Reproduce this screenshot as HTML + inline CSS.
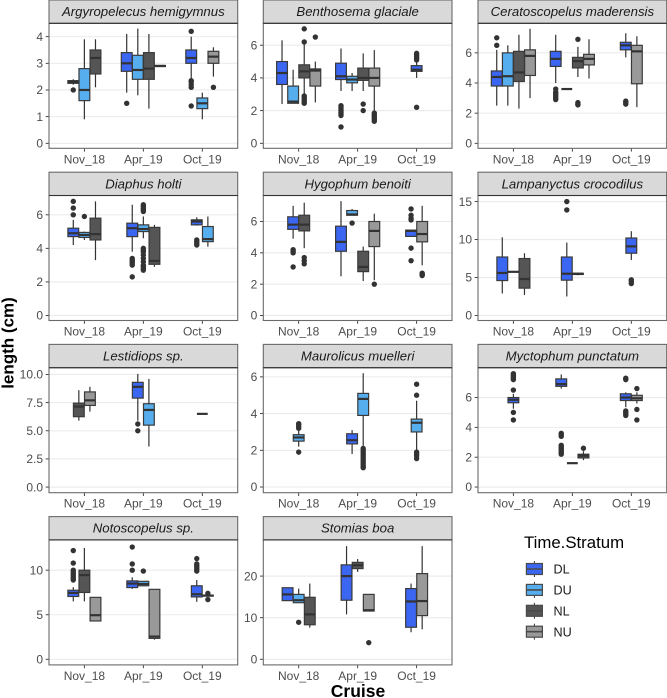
<!DOCTYPE html>
<html>
<head>
<meta charset="utf-8">
<title>Length by cruise and time stratum</title>
<style>
html,body{margin:0;padding:0;background:#fff;}
body{width:667px;height:698px;overflow:hidden;}
svg{display:block;font-family:"Liberation Sans",sans-serif;}
</style>
</head>
<body>
<svg id="chart" xmlns="http://www.w3.org/2000/svg" width="667" height="698" viewBox="0 0 667 698">
  <text transform="translate(13.5,343) rotate(-90)" text-anchor="middle" font-size="17" font-weight="bold" fill="#000">length (cm)</text>
  <text x="358" y="697" text-anchor="middle" font-size="17.5" font-weight="bold" fill="#000">Cruise</text>
  <g id="legend">
    <text x="524" y="548" font-size="16.8" fill="#000">Time.Stratum</text>
  </g>
</svg>
<script>
const cruises = ["Nov_18", "Apr_19", "Oct_19"];
const strata = ["DL", "DU", "NL", "NU"];
const speciesNames = ["Argyropelecus hemigymnus", "Benthosema glaciale", "Ceratoscopelus maderensis", "Diaphus holti", "Hygophum benoiti", "Lampanyctus crocodilus", "Lestidiops sp.", "Maurolicus muelleri", "Myctophum punctatum", "Notoscopelus sp.", "Stomias boa"];
const yDomains = [[-0.187, 4.5], [-0.305, 7.34], [-0.33, 7.96], [-0.3, 7.15], [-0.32, 7.66], [-0.66, 15.8], [-0.5, 10.6], [-0.31, 6.5], [-0.38, 8.0], [-0.63, 13.4], [-1.35, 28.7]];
const yTicks = [["0", "1", "2", "3", "4"], ["0", "2", "4", "6"], ["0", "2", "4", "6"], ["0", "2", "4", "6"], ["0", "2", "4", "6"], ["0", "5", "10", "15"], ["0.0", "2.5", "5.0", "7.5", "10.0"], ["0", "2", "4", "6"], ["0", "2", "4", "6"], ["0", "5", "10"], ["0", "10", "20"]];

// rows: cruise, stratum, whisker low, q1, median, q3, whisker high, outliers
const argyropelecus = [
  ["Nov_18", "DL", 2.2, 2.25, 2.3, 2.35, 2.4, [2.0]],
  ["Nov_18", "DU", 0.9, 1.6, 2.0, 2.8, 3.9, []],
  ["Nov_18", "NL", 2.1, 2.6, 3.2, 3.5, 3.9, []],
  ["Apr_19", "DL", 1.9, 2.7, 3.0, 3.4, 4.1, [1.5]],
  ["Apr_19", "DU", 1.8, 2.4, 2.75, 3.3, 4.3, []],
  ["Apr_19", "NL", 1.3, 2.4, 2.8, 3.4, 4.1, []],
  ["Apr_19", "NU", 2.88, 2.88, 2.9, 2.92, 2.92, []],
  ["Oct_19", "DL", 2.3, 3.0, 3.2, 3.5, 4.0, [4.2, 3.3, 3.2, 3.15, 2.35, 2.3, 2.2, 2.1, 1.4]],
  ["Oct_19", "DU", 0.9, 1.3, 1.5, 1.7, 1.9, []],
  ["Oct_19", "NU", 2.5, 3.0, 3.25, 3.45, 3.6, [2.1]]
];
const benthosema = [
  ["Nov_18", "DL", 2.4, 3.6, 4.3, 5.0, 6.3, []],
  ["Nov_18", "DU", 2.45, 2.45, 2.55, 3.5, 4.5, []],
  ["Nov_18", "NL", 2.95, 4.0, 4.4, 4.8, 6.1, [7.0, 6.2, 2.9, 2.8, 2.7, 2.6, 2.5, 2.45]],
  ["Nov_18", "NU", 2.5, 3.5, 4.45, 4.55, 5.0, [6.5]],
  ["Apr_19", "DL", 3.2, 3.9, 4.1, 4.9, 5.8, [2.3, 2.2, 2.1, 2.0, 1.9, 1.8, 1.7, 1.0]],
  ["Apr_19", "DU", 3.2, 3.7, 3.9, 4.1, 4.3, []],
  ["Apr_19", "NL", 3.2, 3.85, 4.0, 4.6, 5.5, [2.4, 2.0]],
  ["Apr_19", "NU", 1.9, 3.5, 4.0, 4.6, 5.7, [1.85, 1.75, 1.65, 1.55, 1.45, 1.35]],
  ["Oct_19", "DL", 4.0, 4.4, 4.5, 4.75, 5.0, [5.5, 5.4, 5.3, 5.2, 5.1, 2.2]]
];
const ceratoscopelus = [
  ["Nov_18", "DL", 2.5, 3.8, 4.4, 4.8, 6.2, [7.0, 6.5]],
  ["Nov_18", "DU", 2.5, 3.8, 4.45, 6.0, 6.5, []],
  ["Nov_18", "NL", 2.3, 4.1, 4.7, 6.1, 7.2, []],
  ["Nov_18", "NU", 3.0, 4.5, 5.8, 6.2, 7.6, []],
  ["Apr_19", "DL", 4.0, 5.1, 5.6, 6.1, 7.2, [3.6, 3.4, 3.3, 3.2, 3.1, 3.0, 2.9]],
  ["Apr_19", "DU", 3.6, 3.6, 3.6, 3.6, 3.6, []],
  ["Apr_19", "NL", 4.4, 5.0, 5.45, 5.7, 6.4, [6.9, 2.7, 2.6, 2.55]],
  ["Apr_19", "NU", 4.3, 5.2, 5.6, 5.9, 6.9, []],
  ["Oct_19", "DL", 5.7, 6.2, 6.5, 6.7, 7.3, [2.8, 2.7, 2.6]],
  ["Oct_19", "NU", 2.4, 3.95, 6.1, 6.5, 7.1, []]
];
const diaphus = [
  ["Nov_18", "DL", 4.2, 4.7, 4.9, 5.2, 5.7, [6.8, 6.4, 6.0]],
  ["Nov_18", "DU", 4.5, 4.65, 4.8, 4.95, 5.0, [5.9]],
  ["Nov_18", "NL", 3.3, 4.5, 4.85, 5.8, 6.8, []],
  ["Apr_19", "DL", 3.8, 4.7, 5.2, 5.5, 6.6, [3.4, 3.3, 3.2, 3.1, 3.0, 2.3]],
  ["Apr_19", "DU", 4.6, 5.0, 5.15, 5.4, 5.9, [6.6, 6.5, 6.4, 6.3, 6.2, 4.0, 3.9, 3.8, 3.6, 3.4, 3.2, 3.0, 2.9, 2.8, 2.7]],
  ["Apr_19", "NL", 2.9, 3.05, 3.25, 5.25, 5.4, []],
  ["Oct_19", "DL", 5.35, 5.4, 5.6, 5.7, 5.85, [4.5, 4.4, 4.3, 4.2]],
  ["Oct_19", "DU", 4.1, 4.4, 4.55, 5.3, 5.9, []]
];
const hygophum = [
  ["Nov_18", "DL", 4.9, 5.5, 5.8, 6.3, 7.0, [4.2, 4.1, 4.0, 3.1]],
  ["Nov_18", "NL", 4.3, 5.4, 5.8, 6.4, 7.2, [3.7, 3.5, 3.3]],
  ["Apr_19", "DL", 2.5, 4.1, 4.7, 5.7, 7.3, []],
  ["Apr_19", "DU", 6.4, 6.4, 6.45, 6.7, 6.8, [5.9]],
  ["Apr_19", "NL", 2.2, 2.8, 3.1, 4.1, 4.4, []],
  ["Apr_19", "NU", 2.25, 4.4, 5.4, 6.0, 6.5, [2.0]],
  ["Oct_19", "DL", 5.05, 5.05, 5.4, 5.45, 5.45, [6.8, 6.4, 6.2, 6.1, 4.3, 3.5]],
  ["Oct_19", "NU", 3.2, 4.7, 5.2, 6.0, 7.0, [2.7, 2.65, 2.6, 2.55]]
];
const lampanyctus = [
  ["Nov_18", "DL", 2.9, 4.6, 5.6, 7.7, 10.3, []],
  ["Nov_18", "DU", 5.75, 5.75, 5.75, 5.75, 5.75, []],
  ["Nov_18", "NL", 2.7, 3.6, 4.8, 7.5, 8.2, []],
  ["Apr_19", "DL", 2.5, 4.65, 5.5, 7.7, 9.6, [15.0, 13.9]],
  ["Apr_19", "DU", 5.3, 5.4, 5.5, 5.55, 5.6, []],
  ["Oct_19", "DL", 7.3, 8.2, 9.1, 10.2, 11.1, [4.7, 4.5, 4.2]]
];
const lestidiops = [
  ["Nov_18", "NL", 5.9, 6.25, 7.15, 7.45, 8.6, []],
  ["Nov_18", "NU", 6.7, 7.25, 7.7, 8.45, 8.9, []],
  ["Apr_19", "DL", 5.9, 7.9, 8.9, 9.3, 10.05, [5.6, 5.0]],
  ["Apr_19", "DU", 3.6, 5.5, 6.85, 7.4, 9.6, []],
  ["Oct_19", "NL", 6.5, 6.5, 6.5, 6.5, 6.5, []]
];
const maurolicus = [
  ["Nov_18", "DU", 2.2, 2.5, 2.7, 2.85, 3.2, [3.45, 3.4, 3.3, 3.2, 1.9]],
  ["Apr_19", "DL", 1.8, 2.35, 2.55, 2.9, 3.1, []],
  ["Apr_19", "DU", 2.2, 3.9, 4.8, 5.1, 6.2, [2.1, 2.0, 1.9, 1.8, 1.7, 1.6, 1.5, 1.4, 1.3, 1.2, 1.1, 1.05]],
  ["Oct_19", "DU", 2.0, 3.0, 3.5, 3.7, 4.7, [5.6, 5.0, 1.9, 1.8, 1.7, 1.55]]
];
const myctophum = [
  ["Nov_18", "DL", 5.25, 5.65, 5.85, 6.0, 6.25, [7.6, 7.5, 7.4, 7.3, 7.2, 6.5, 5.0, 4.5]],
  ["Apr_19", "DL", 6.6, 6.75, 6.9, 7.25, 7.55, [3.6, 3.5, 3.4, 2.8, 2.7, 2.6, 2.5, 2.4, 2.3, 2.2]],
  ["Apr_19", "DU", 1.6, 1.6, 1.6, 1.6, 1.6, []],
  ["Apr_19", "NL", 1.8, 1.95, 2.1, 2.2, 2.4, [2.6]],
  ["Oct_19", "DL", 5.35, 5.8, 6.0, 6.25, 6.35, [7.3, 7.2, 5.1, 5.0, 4.9, 4.8]],
  ["Oct_19", "NU", 5.6, 5.8, 5.95, 6.15, 6.35, [6.6, 5.2, 4.5]]
];
const notoscopelus = [
  ["Nov_18", "DL", 6.5, 7.05, 7.45, 7.75, 8.1, [12.2, 10.8, 10.0, 9.8, 9.6, 9.4, 9.2, 9.0, 8.9]],
  ["Nov_18", "NL", 6.5, 7.5, 9.45, 10.0, 12.5, []],
  ["Nov_18", "NU", 4.3, 4.3, 4.95, 6.95, 6.95, []],
  ["Apr_19", "DL", 7.9, 8.05, 8.5, 8.8, 9.2, [12.6, 10.7, 10.0]],
  ["Apr_19", "DU", 8.25, 8.25, 8.45, 8.75, 8.75, [9.9]],
  ["Apr_19", "NU", 2.2, 2.35, 2.55, 7.85, 7.85, []],
  ["Oct_19", "DL", 6.45, 7.0, 7.3, 8.25, 8.9, [11.3, 10.7, 10.5, 10.3, 10.1, 9.9]],
  ["Oct_19", "NL", 7.0, 7.1, 7.15, 7.2, 7.3, [7.4, 6.7]]
];
const stomias = [
  ["Nov_18", "DL", 14.1, 14.1, 15.6, 17.2, 17.2, []],
  ["Nov_18", "DU", 13.6, 13.6, 14.2, 15.6, 17.0, [8.9]],
  ["Nov_18", "NL", 7.6, 8.3, 10.8, 14.9, 18.2, []],
  ["Apr_19", "DL", 10.8, 14.2, 20.0, 22.7, 27.2, []],
  ["Apr_19", "NL", 21.0, 21.8, 22.6, 23.3, 24.1, []],
  ["Apr_19", "NU", 11.6, 11.6, 11.8, 15.6, 15.6, [4.0]],
  ["Oct_19", "DL", 6.5, 7.7, 13.9, 17.0, 18.2, []],
  ["Oct_19", "NU", 7.2, 10.5, 14.0, 20.6, 27.2, []]
];
const speciesBoxes = [argyropelecus, benthosema, ceratoscopelus, diaphus, hygophum, lampanyctus, lestidiops, maurolicus, myctophum, notoscopelus, stomias];

const stratumFill = { DL: "#3b66f2", DU: "#56aeee", NL: "#555555", NU: "#999999" };
const NS = "http://www.w3.org/2000/svg";
const svg = document.getElementById("chart");
const PANEL_W = 188.7, PANEL_H = 125, STRIP_H = 23.3, BOX_W = 10.8, DODGE = 11.1;
const colLeft = c => [49, 263.3, 478][c];
const rowBottom = r => 148.3 + r * 172.2;

function mk(tag, parent, attrs, text) {
  const el = document.createElementNS(NS, tag);
  for (const k in attrs) el.setAttribute(k, attrs[k]);
  if (text !== undefined) el.textContent = text;
  parent.appendChild(el);
  return el;
}
function slug(s) { return s.toLowerCase().replace(/[^a-z0-9]+/g, "-").replace(/-$/, ""); }

function drawBox(g, cx, yScale, row, sp) {
  const [cruise, stratum, wLo, q1, med, q3, wHi, outs] = row;
  const item = mk("g", g, {});
  
  
  outs.forEach(v => {
    const o = mk("circle", item, { cx: cx, cy: yScale(v), r: 2.7, fill: "#333333" });
    
    
  });
  const w1 = mk("line", item, { x1: cx, x2: cx, y1: yScale(q3), y2: yScale(wHi), stroke: "#333333", "stroke-width": 1.2 });
  
  
  const w2 = mk("line", item, { x1: cx, x2: cx, y1: yScale(q1), y2: yScale(wLo), stroke: "#333333", "stroke-width": 1.2 });
  
  
  const b = mk("rect", item, { x: cx - BOX_W / 2, y: yScale(q3), width: BOX_W, height: Math.max(0, yScale(q1) - yScale(q3)), fill: stratumFill[stratum], stroke: "#3a3a3a", "stroke-width": 1.2 });
  
  
  const m = mk("line", item, { x1: cx - BOX_W / 2, x2: cx + BOX_W / 2, y1: yScale(med), y2: yScale(med), stroke: "#333333", "stroke-width": 2.2 });
  
  
}

speciesNames.forEach((name, idx) => {
  const sp = slug(name);
  const col = idx % 3, row = Math.floor(idx / 3);
  const left = colLeft(col), bottom = rowBottom(row), top = bottom - PANEL_H;
  const [lo, hi] = yDomains[idx];
  const yScale = v => bottom - (v - lo) / (hi - lo) * PANEL_H;
  const step = PANEL_W / 3.2;
  const xScale = i => left + (0.6 + i) * step;

  const g = mk("g", svg, {});
  
  

  const bg = mk("rect", g, { x: left, y: top, width: PANEL_W, height: PANEL_H, fill: "#ffffff" });
  
  

  yTicks[idx].forEach(t => {
    const y = yScale(parseFloat(t));
    const grid = mk("line", g, { x1: left, x2: left + PANEL_W, y1: y, y2: y, stroke: "#ebebeb", "stroke-width": 1.1 });
    
    
    const tick = mk("line", g, { x1: left - 3.3, x2: left, y1: y, y2: y, stroke: "#333333", "stroke-width": 0.9 });
    
    
    const lab = mk("text", g, { x: left - 6, y: y + 4.2, "text-anchor": "end", "font-size": 12, fill: "#4d4d4d" }, t);
    
    
  });

  cruises.forEach((c, i) => {
    const x = xScale(i);
    const tick = mk("line", g, { x1: x, x2: x, y1: bottom, y2: bottom + 3.3, stroke: "#333333", "stroke-width": 0.9 });
    
    
    const lab = mk("text", g, { x: x, y: bottom + 15, "text-anchor": "middle", "font-size": 12, fill: "#4d4d4d" }, c);
    
    
    const rows = speciesBoxes[idx].filter(r => r[0] === c);
    rows.forEach((r, k) => {
      drawBox(g, x + (k - (rows.length - 1) / 2) * DODGE, yScale, r, sp);
    });
  });

  const border = mk("rect", g, { x: left, y: top, width: PANEL_W, height: PANEL_H, fill: "none", stroke: "#6a6a6a", "stroke-width": 1.1 });
  
  

  const strip = mk("rect", g, { x: left, y: top - STRIP_H, width: PANEL_W, height: STRIP_H, fill: "#d9d9d9", stroke: "#6a6a6a", "stroke-width": 1.1 });
  
  
  const rule = mk("line", g, { x1: left, x2: left + PANEL_W, y1: top, y2: top, stroke: "#333333", "stroke-width": 1.1 });
  
  
  const label = mk("text", g, { x: left + PANEL_W / 2, y: top - 7.2, "text-anchor": "middle", "font-size": 13.2, "font-style": "italic", fill: "#1a1a1a" }, name);
  
  
});

const legend = document.getElementById("legend");
strata.forEach((s, i) => {
  const cy = 569 + i * 20.9;
  const g = mk("g", legend, {});
  
  
  const w = mk("line", g, { x1: 534.4, x2: 534.4, y1: cy - 8, y2: cy + 8, stroke: "#333333", "stroke-width": 1 });
  
  
  const r = mk("rect", g, { x: 526.4, y: cy - 5.5, width: 16, height: 11, fill: stratumFill[s], stroke: "#4a4a4a", "stroke-width": 1.2 });
  
  
  const m = mk("line", g, { x1: 526.4, x2: 542.4, y1: cy, y2: cy, stroke: "#4a4a4a", "stroke-width": 1.6 });
  
  
  const t = mk("text", g, { x: 553.5, y: cy + 4.6, "font-size": 12.6, fill: "#1a1a1a" }, s);
  
  
});
</script>
</body>
</html>
